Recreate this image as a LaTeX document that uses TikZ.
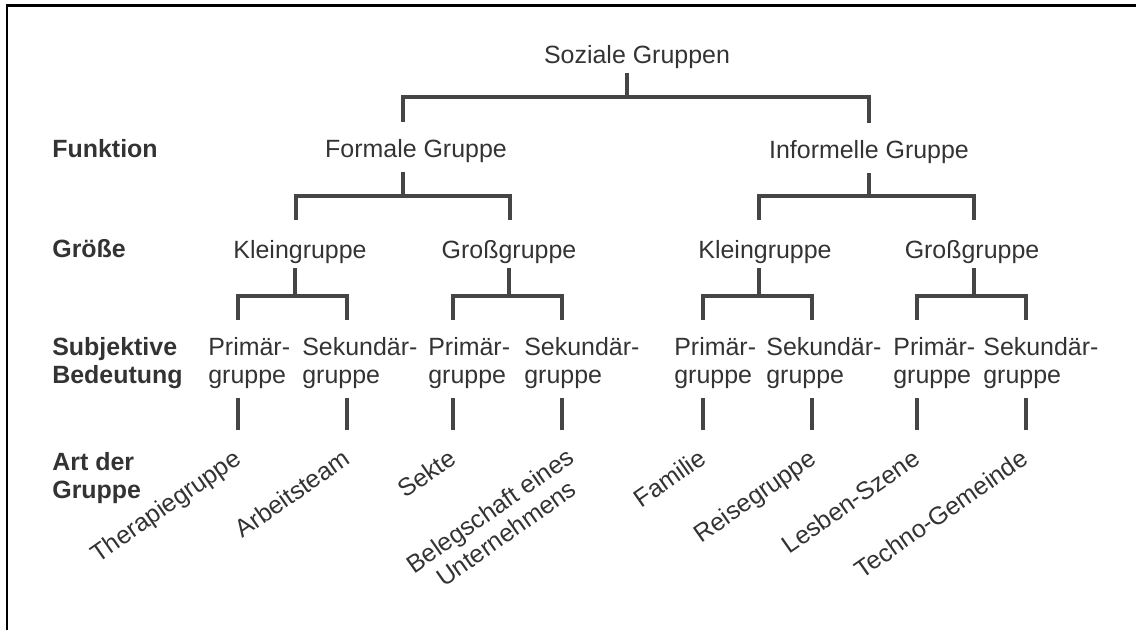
\documentclass[tikz,border=0pt]{standalone}
\usepackage{fontspec}
\setmainfont{Liberation Sans}
\usetikzlibrary{calc}
\definecolor{inkgray}{HTML}{333333}
\definecolor{linegray}{HTML}{454545}
\tikzset{
  grp/.style={inner sep=0pt, anchor=base, text=inkgray, font=\fontsize{14.2}{15.9}\selectfont},
  sub/.style={grp, anchor=base west, align=left},
  dim/.style={grp, anchor=base west, align=left, font=\fontsize{14.2}{15.9}\selectfont\bfseries},
  art/.style={grp, anchor=base east, rotate=35},
  branch/.style={draw=linegray, line width=2.5pt},
  frame/.style={draw=black, line width=1.7pt}
}

\begin{document}
\begin{tikzpicture}[x=0.02cm, y=-0.02cm]
\useasboundingbox (0,0) rectangle (1136,630);
\draw[frame] (7,630) -- (7,5) -- (1136,5);

% dimensions on the left
\node[dim] (funk) at (52,157) {Funktion};
\node[dim] (groesse) at (52,257) {Größe};
\node[dim] (subj) at (52,383) {Subjektive\\Bedeutung};
\node[dim] (artder) at (52,498) {Art der\\Gruppe};

% groups
\node[grp] (sg) at (637,63) {Soziale Gruppen};
\node[grp] (fg) at (416,157) {Formale Gruppe};
\node[grp] (ig) at (869,158) {Informelle Gruppe};
\node[grp] (kg1) at (300,258) {Kleingruppe};
\node[grp] (gg1) at (509,258) {Großgruppe};
\node[grp] (kg2) at (765,258) {Kleingruppe};
\node[grp] (gg2) at (972,258) {Großgruppe};

\node[sub] (p1) at (208,383) {Primär-\\gruppe};
\node[sub] (s1) at (302,383) {Sekundär-\\gruppe};
\node[sub] (p2) at (428,383) {Primär-\\gruppe};
\node[sub] (s2) at (524,383) {Sekundär-\\gruppe};
\node[sub] (p3) at (674,383) {Primär-\\gruppe};
\node[sub] (s3) at (766,383) {Sekundär-\\gruppe};
\node[sub] (p4) at (893,383) {Primär-\\gruppe};
\node[sub] (s4) at (983,383) {Sekundär-\\gruppe};

% examples
\node[art] (a1) at (243,462) {Therapiegruppe};
\node[art] (a2) at (352,462) {Arbeitsteam};
\node[art] (a3) at (458,462) {Sekte};
\node[art, align=center] (a4) at (592,484) {Belegschaft eines\\Unternehmens};
\node[art] (a5) at (708,462) {Familie};
\node[art] (a6) at (818,462) {Reisegruppe};
\node[art] (a7) at (922,462) {Lesben-Szene};
\node[art] (a8) at (1030,462) {Techno-Gemeinde};

% Funktion
\draw[branch] ($(sg.base)+(-10,10)$) -- ++(0,24) -| ($(fg.base)+(-13,-35)$);
\draw[branch] ($(sg.base)+(-10,10)$) -- ++(0,24) -| ($(ig.base)+(0,-35)$);

% Groesse
\draw[branch] ($(fg.base)+(-13,15)$) -- ++(0,24) -| ($(kg1.base)+(-4,-38)$);
\draw[branch] ($(fg.base)+(-13,15)$) -- ++(0,24) -| ($(gg1.base)+(1,-38)$);
\draw[branch] ($(ig.base)+(0,15)$) -- ++(0,23) -| ($(kg2.base)+(-6,-38)$);
\draw[branch] ($(ig.base)+(0,15)$) -- ++(0,23) -| ($(gg2.base)+(2,-38)$);

% subjektive Bedeutung
\draw[branch] ($(kg1.base)+(-5,10)$) -- ++(0,28) -| ($(p1.base west)+(30,-63)$);
\draw[branch] ($(kg1.base)+(-5,10)$) -- ++(0,28) -| ($(s1.base west)+(45,-63)$);
\draw[branch] ($(gg1.base)+(0,10)$) -- ++(0,28) -| ($(p2.base west)+(25,-63)$);
\draw[branch] ($(gg1.base)+(0,10)$) -- ++(0,28) -| ($(s2.base west)+(38,-63)$);
\draw[branch] ($(kg2.base)+(-6,10)$) -- ++(0,28) -| ($(p3.base west)+(29,-63)$);
\draw[branch] ($(kg2.base)+(-6,10)$) -- ++(0,28) -| ($(s3.base west)+(46,-63)$);
\draw[branch] ($(gg2.base)+(2,10)$) -- ++(0,28) -| ($(p4.base west)+(24,-63)$);
\draw[branch] ($(gg2.base)+(2,10)$) -- ++(0,28) -| ($(s4.base west)+(43,-63)$);

% Art der Gruppe
\draw[branch] ($(p1.base west)+(30,15)$) -- ++(0,32);
\draw[branch] ($(s1.base west)+(45,15)$) -- ++(0,32);
\draw[branch] ($(p2.base west)+(25,15)$) -- ++(0,32);
\draw[branch] ($(s2.base west)+(38,15)$) -- ++(0,32);
\draw[branch] ($(p3.base west)+(29,15)$) -- ++(0,32);
\draw[branch] ($(s3.base west)+(46,15)$) -- ++(0,32);
\draw[branch] ($(p4.base west)+(24,15)$) -- ++(0,32);
\draw[branch] ($(s4.base west)+(43,15)$) -- ++(0,32);
\end{tikzpicture}
\end{document}
